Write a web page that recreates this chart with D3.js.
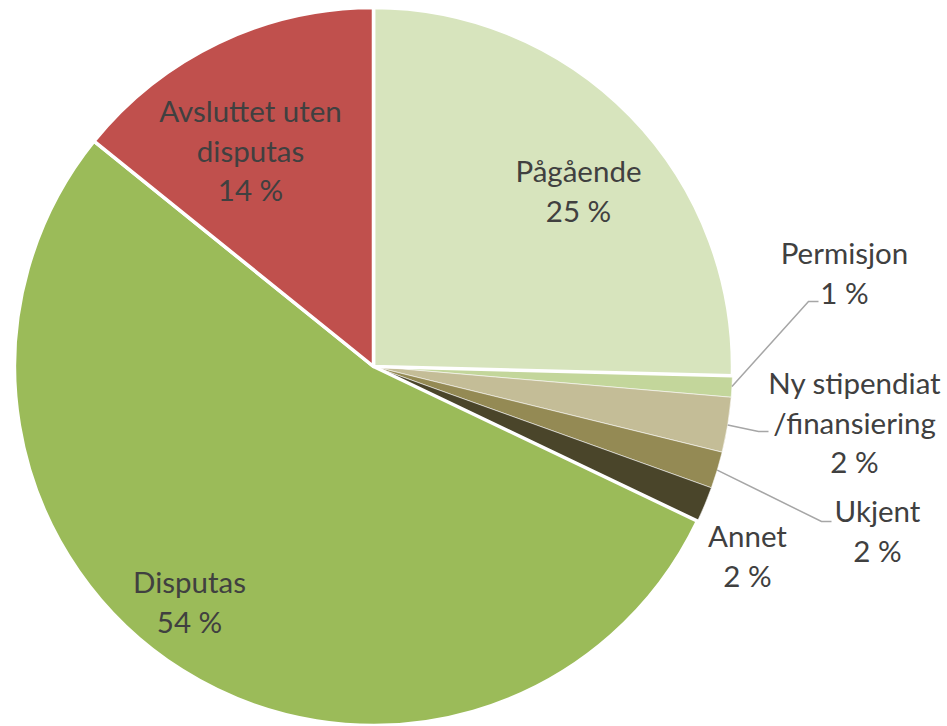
<!DOCTYPE html>
<html>
<head>
<meta charset="utf-8">
<script src="https://cdn.jsdelivr.net/npm/d3@7"></script>
<style>
  body { margin: 0; background: #fff; }
</style>
</head>
<body>
<div id="chart"></div>
<script>
// Data, clockwise from 12 o'clock
const categories = ["Pågående", "Permisjon", "Ny stipendiat\n/finansiering", "Ukjent", "Annet", "Disputas", "Avsluttet uten\ndisputas"];
const values = [25.4, 0.96, 2.47, 1.65, 1.6, 53.7, 14.2];
const colors = ["#D7E4BD", "#C3D69B", "#C4BD97", "#948A54", "#4A452A", "#9BBB59", "#C0504D"];

// Label placement (pixel offsets from chart centre); leader = draw a line from the slice
const labelPos = [
  { x: 205, y: -175, leader: false },
  { x: 471, y: -93, leader: true, lx: 435, ly: -65 },
  { x: 481, y: 57, leader: true, lx: 385, ly: 65 },
  { x: 504, y: 165, leader: true, lx: 448, ly: 155 },
  { x: 374, y: 190, leader: false },
  { x: -184, y: 236, leader: false },
  { x: -123, y: -215, leader: false }
];
const bigSlice = [true, false, false, false, false, true, true];

const width = 947;
const height = 726;
const cx = 373.5, cy = 366.5;
const radius = 359;
const lineH = 39.5;

const svg = d3.select("#chart").append("svg")
  .attr("width", width)
  .attr("height", height)
  .style("font-family", "Lato, 'Open Sans', sans-serif");

const g = svg.append("g").attr("transform", `translate(${cx},${cy})`);

const pie = d3.pie().sort(null).value(d => d)
  .startAngle(0).endAngle(2 * Math.PI);
const arcs = pie(values);

const arc = d3.arc().innerRadius(0).outerRadius(radius);

// small slices first, big ones on top so their white border shows
const order = d3.range(arcs.length).sort((a, b) => bigSlice[a] - bigSlice[b]);

g.selectAll("path")
  .data(order)
  .join("path")
    .attr("d", i => arc(arcs[i]))
    .attr("fill", i => colors[i])
    .attr("stroke", "#fff")
    .attr("stroke-opacity", i => bigSlice[i] ? 1 : 0.55)
    .attr("stroke-width", i => bigSlice[i] ? 3.5 : 1)
    .attr("stroke-linejoin", "round");

// leader lines from the slice edge to the label
arcs.forEach((a, i) => {
  const p = labelPos[i];
  if (!p.leader) return;
  const mid = (a.startAngle + a.endAngle) / 2;
  const sx = radius * Math.sin(mid), sy = -radius * Math.cos(mid);
  const ex = p.lx + 10;
  g.append("path")
    .attr("d", d3.line()([[sx, sy], [p.lx, p.ly], [ex, p.ly]]))
    .attr("fill", "none")
    .attr("stroke", "#A6A6A6")
    .attr("stroke-width", 1.5);
});

// labels
arcs.forEach((a, i) => {
  const p = labelPos[i];
  const lines = categories[i].split("\n").concat([Math.round(values[i]) + " %"]);
  const t = g.append("text")
    .attr("text-anchor", "middle")
    .attr("fill", "#404040")
    .style("font-size", "29.5px");
  lines.forEach((ln, k) => {
    t.append("tspan")
      .attr("x", p.x)
      .attr("y", p.y + (k - (lines.length - 1) / 2) * lineH)
      .attr("dy", "0.35em")
      .text(ln);
  });
});
</script>
</body>
</html>
